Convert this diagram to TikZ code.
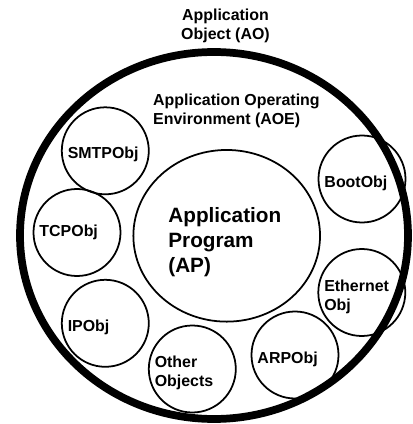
\documentclass[tikz,border=0pt]{standalone}
\usepackage{fontspec}
\setmainfont{Liberation Sans}
\usepackage{tikz}
\usetikzlibrary{shapes.geometric}

\begin{document}
\begin{tikzpicture}[
    objcircle/.style={circle,draw,line width=1.5pt,minimum size=2.61cm,inner sep=0pt,
      text width=2.25cm,text height=16.7pt,align=left,font=\bfseries\fontsize{13.6}{16.2}\selectfont},
    lbl/.style={font=\bfseries\fontsize{13.6}{16.2}\selectfont,inner sep=0pt}
  ]
  \useasboundingbox (-6.42,-5.655) rectangle (5.97,7.065);

  % Application object (outer ring)
  \draw[line width=6.6pt] (0,0) ellipse (5.82 and 5.505);
  \node[lbl,align=center] (ao) at (0.345,6.285) {Application\\Object (AO)};

  % Operating environment
  \node[lbl,align=left,anchor=west] (aoe) at (-1.83,3.75) {Application Operating\\Environment (AOE)};

  % Application program
  \node[ellipse,draw,line width=1.5pt,minimum width=5.6cm,minimum height=5.15cm,inner sep=0pt,
    text width=3.5cm,text height=23pt,align=left,font=\bfseries\fontsize{17.7}{21.3}\selectfont]
    (ap) at (0.381,-0.009) {Application\\Program\\(AP)};

  % Objects round the program
  \node[objcircle] (smtp)  at (-3.261,2.541)  {SMTPObj};
  \node[objcircle,text height=9.7pt] (tcp) at (-4.11,0.09) {TCPObj};
  \node[objcircle] (ip)    at (-3.261,-2.634) {IPObj};
  \node[objcircle] (other) at (-0.651,-4.005) {Other\\Objects};
  \node[objcircle] (arp)   at (2.43,-3.585)   {ARPObj};
  \node[objcircle] (eth)   at (4.434,-1.71)   {Ethernet\\Obj};
  \node[objcircle] (boot)  at (4.44,1.695)    {BootObj};
\end{tikzpicture}
\end{document}
